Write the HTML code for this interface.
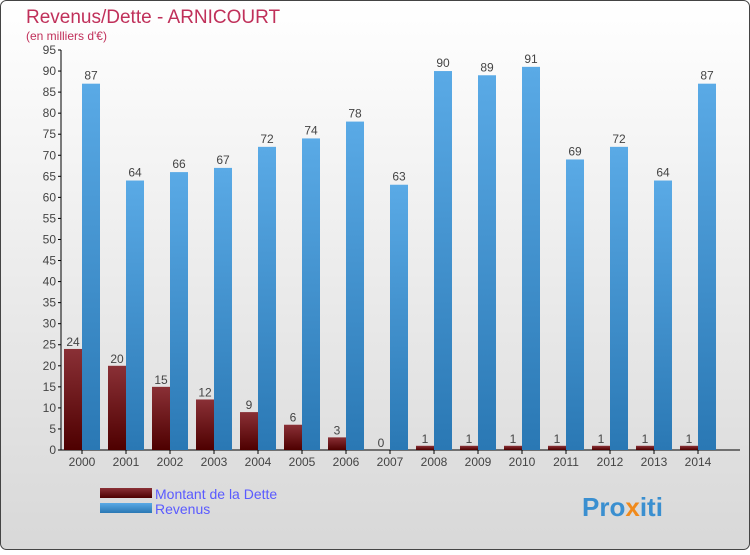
<!DOCTYPE html>
<html><head><meta charset="utf-8"><style>
body{margin:0;width:750px;height:550px;overflow:hidden;font-family:"Liberation Sans",sans-serif}
</style></head><body>
<svg width="750" height="550" xmlns="http://www.w3.org/2000/svg">
<defs>
<linearGradient id="bg" x1="0" y1="0" x2="0" y2="1"><stop offset="0" stop-color="#ffffff"/><stop offset="1" stop-color="#d8d8d8"/></linearGradient>
<linearGradient id="rg" x1="0" y1="0" x2="0" y2="1"><stop offset="0" stop-color="#8a3036"/><stop offset="1" stop-color="#4e0000"/></linearGradient>
<linearGradient id="bgb" x1="0" y1="0" x2="0" y2="1"><stop offset="0" stop-color="#5aaae6"/><stop offset="1" stop-color="#2a78b4"/></linearGradient>
</defs>
<rect x="0.5" y="0.5" width="749" height="549" rx="6" fill="url(#bg)" stroke="#444"/>
<text x="26" y="23" font-size="19" fill="#c0305a">Revenus/Dette - ARNICOURT</text>
<text x="26" y="40" font-size="12" fill="#c0305a">(en milliers d'€)</text>
<g id="axes"></g>
<g id="bars"></g>
<g>
<rect x="100" y="488" width="52" height="10" fill="url(#rg)"/>
<text x="155" y="499" font-size="14" fill="#5a5aff">Montant de la Dette</text>
<rect x="100" y="503" width="52" height="10" fill="url(#bgb)"/>
<text x="155" y="514" font-size="14" fill="#5a5aff">Revenus</text>
</g>
<text x="582" y="516" font-size="26" font-weight="bold" fill="#3a8fd0">Pro<tspan fill="#f08a1c">x</tspan>iti</text>
</svg>
<script>
const years=["2000","2001","2002","2003","2004","2005","2006","2007","2008","2009","2010","2011","2012","2013","2014"];
const dette=[24,20,15,12,9,6,3,0,1,1,1,1,1,1,1];
const revenus=[87,64,66,67,72,74,78,63,90,89,91,69,72,64,87];
const yTicks=[0,5,10,15,20,25,30,35,40,45,50,55,60,65,70,75,80,85,90,95];
const NS="http://www.w3.org/2000/svg";
const x0=62,gw=44,y0=450,ppu=400/95;
const yS=v=>y0-v*ppu;
function mk(t,a,p){const e=document.createElementNS(NS,t);for(const k in a)e.setAttribute(k,a[k]);p.appendChild(e);return e;}
const ax=document.getElementById('axes'),bs=document.getElementById('bars');
const yl=mk('line',{x1:61,y1:yS(95),x2:61,y2:y0,stroke:'#000'},ax);


const xl=mk('line',{x1:61,y1:y0,x2:740,y2:y0,stroke:'#000'},ax);


yTicks.forEach(v=>{
 mk('line',{x1:58,y1:yS(v),x2:61,y2:yS(v),stroke:'#000'},ax);
 const t=mk('text',{x:56,y:yS(v)+4,'font-size':12,'text-anchor':'end',fill:'#444'},ax);
 t.textContent=v;
 
 
});
years.forEach((yr,i)=>{
 const gx=x0+i*gw;
 const r=mk('rect',{x:gx+2,y:yS(dette[i]),width:18,height:dette[i]*ppu,fill:'url(#rg)'},bs);
 
 
 const b=mk('rect',{x:gx+20,y:yS(revenus[i]),width:18,height:revenus[i]*ppu,fill:'url(#bgb)'},bs);
 
 
 const l1=mk('text',{x:gx+11,y:yS(dette[i])-3,'font-size':12,'text-anchor':'middle',fill:'#444'},bs);
 l1.textContent=dette[i];
 
 
 const l2=mk('text',{x:gx+29,y:yS(revenus[i])-4,'font-size':12,'text-anchor':'middle',fill:'#444'},bs);
 l2.textContent=revenus[i];
 
 
 mk('line',{x1:gx+20,y1:y0,x2:gx+20,y2:y0+4,stroke:'#000'},ax);
 const xt=mk('text',{x:gx+20,y:y0+16,'font-size':12,'text-anchor':'middle',fill:'#444'},ax);
 xt.textContent=yr;
 
 
});
</script>
</body></html>
